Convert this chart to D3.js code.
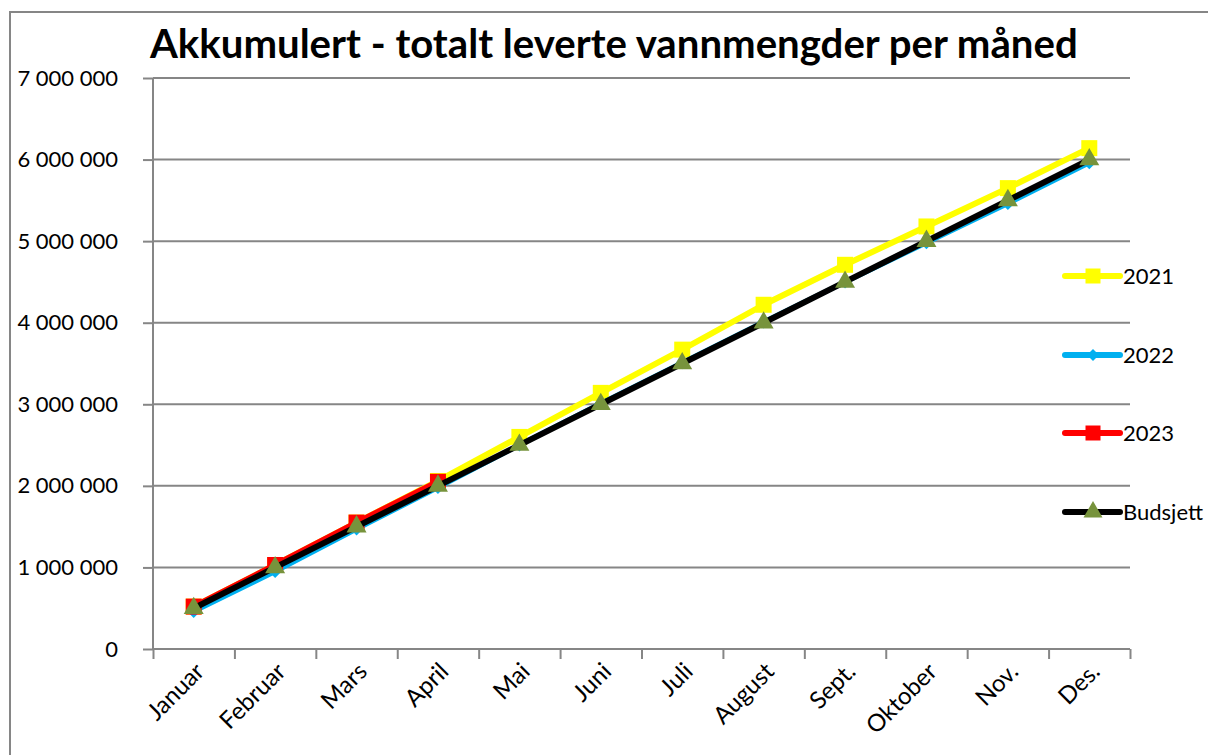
<!DOCTYPE html>
<html>
<head>
<meta charset="utf-8">
<script src="https://cdn.jsdelivr.net/npm/d3@7"></script>
<style>
  body { margin: 0; background: #fff; }
  text { font-family: Lato, "Open Sans", sans-serif; fill: #000; }
</style>
</head>
<body>
<div id="chart"></div>
<script>
"use strict";

// data
var months = ["Januar", "Februar", "Mars", "April", "Mai", "Juni", "Juli", "August", "Sept.", "Oktober", "Nov.", "Des."];
var v2021 = [520000, 1030000, 1550000, 2060000, 2600000, 3140000, 3670000, 4220000, 4710000, 5180000, 5650000, 6140000];
var v2022 = [460000, 950000, 1470000, 1980000, 2500000, 3010000, 3510000, 4010000, 4500000, 4980000, 5460000, 5960000];
var v2023 = [520000, 1030000, 1550000, 2050000];
var budsjett = [500000, 1000000, 1500000, 2000000, 2500000, 3000000, 3500000, 4000000, 4500000, 5000000, 5500000, 6000000];
var yTicks = [0, 1000000, 2000000, 3000000, 4000000, 5000000, 6000000, 7000000];

var series = [
  { name: "2021", values: v2021, color: "#ffff00", width: 6, marker: "square", mcolor: "#ffff00" },
  { name: "2022", values: v2022, color: "#00b0f0", width: 5, marker: "diamond", mcolor: "#00b0f0" },
  { name: "2023", values: v2023, color: "#ff0000", width: 6, marker: "square", mcolor: "#ff0000" },
  { name: "Budsjett", values: budsjett, color: "#000000", width: 6, marker: "triangle", mcolor: "#77933c" }
];

var W = 1208, H = 755;
var pLeft = 153, pRight = 1130, pTop = 78, pBottom = 649;
var grey = "#868686";

var svg = d3.select("#chart").append("svg")
  .attr("width", W).attr("height", H);

// outer chart border (runs off the right and bottom of the picture)
svg.append("rect")
  .attr("x", 10).attr("y", 12)
  .attr("width", 1220).attr("height", 780)
  .attr("fill", "none").attr("stroke", grey).attr("stroke-width", 2);

var x = d3.scaleBand().domain(months).range([pLeft, pRight]);
var xi = d3.scaleLinear().domain([0, months.length]).range([pLeft, pRight]);
var y = d3.scaleLinear().domain([0, 7000000]).range([pBottom, pTop]);

var fmt = d3.formatLocale({ decimal: ",", thousands: " ", grouping: [3], currency: ["", ""] }).format(",d");

// gridlines
svg.append("g").selectAll("line")
  .data(yTicks.slice(1))
  .enter().append("line")
  .attr("x1", pLeft).attr("x2", pRight)
  .attr("y1", function(d) { return y(d); })
  .attr("y2", function(d) { return y(d); })
  .attr("stroke", grey).attr("stroke-width", 2);

// y axis
var yAxis = svg.append("g")
  .attr("transform", "translate(" + pLeft + ",0)")
  .call(d3.axisLeft(y).tickValues(yTicks).tickSize(10).tickPadding(25).tickFormat(fmt));
yAxis.selectAll("line, path").attr("stroke", grey).attr("stroke-width", 2);
yAxis.select(".domain").attr("d", "M0," + pTop + "V" + pBottom);
yAxis.selectAll("text").style("font-size", "22px").style("font-family", "Lato, sans-serif").attr("fill", "#000");

// x axis: boundary ticks
var xAxis = svg.append("g")
  .attr("transform", "translate(0," + pBottom + ")")
  .call(d3.axisBottom(xi).tickValues(d3.range(months.length + 1)).tickSize(10).tickFormat(""));
xAxis.selectAll("line, path").attr("stroke", grey).attr("stroke-width", 2);
xAxis.select(".domain").attr("d", "M" + pLeft + ",0H" + pRight);

// x labels rotated
svg.append("g").selectAll("text")
  .data(months)
  .enter().append("text")
  .attr("text-anchor", "end")
  .attr("transform", function(d) {
    return "translate(" + (x(d) + x.bandwidth() / 2 + 12) + "," + (pBottom + 24) + ") rotate(-45)";
  })
  .style("font-size", "24px")
  .text(function(d) { return d; });

function markerPath(type, s) {
  if (type === "square") return d3.symbol(d3.symbolSquare, s * s)();
  if (type === "diamond") return "M0," + (-s / 2) + "L" + (s / 2) + ",0L0," + (s / 2) + "L" + (-s / 2) + ",0Z";
  return d3.symbol(d3.symbolTriangle, Math.sqrt(3) / 4 * s * s)();
}
var msize = { square: 16, diamond: 13, triangle: 20 };

var line = d3.line()
  .x(function(d, i) { return x(months[i]) + x.bandwidth() / 2; })
  .y(function(d) { return y(d); });

series.forEach(function(s) {
  var g = svg.append("g");
  g.append("path")
    .attr("d", line(s.values))
    .attr("fill", "none")
    .attr("stroke", s.color)
    .attr("stroke-width", s.width)
    .attr("stroke-linejoin", "round");
  g.selectAll("path.m")
    .data(s.values)
    .enter().append("path")
    .attr("class", "m")
    .attr("d", markerPath(s.marker, msize[s.marker]))
    .attr("transform", function(d, i) {
      return "translate(" + (x(months[i]) + x.bandwidth() / 2) + "," + y(d) + ")";
    })
    .attr("fill", s.mcolor);
});

// legend
var legendY = [276, 355, 433, 512];
var legend = svg.append("g").selectAll("g")
  .data(series)
  .enter().append("g")
  .attr("transform", function(d, i) { return "translate(1065," + legendY[i] + ")"; });
legend.append("line")
  .attr("x1", 0).attr("x2", 55)
  .attr("stroke", function(d) { return d.color; })
  .attr("stroke-width", 6)
  .attr("stroke-linecap", "round");
legend.append("path")
  .attr("d", function(d) { return markerPath(d.marker, msize[d.marker] - 1); })
  .attr("transform", "translate(28,0)")
  .attr("fill", function(d) { return d.mcolor; });
legend.append("text")
  .attr("x", 58).attr("dy", "0.35em")
  .style("font-size", "22px")
  .text(function(d) { return d.name; });

// title, sized to span the same width as the original
var title = svg.append("text")
  .attr("x", 150).attr("y", 58)
  .style("font-size", "36px")
  .style("font-weight", "bold")
  .text("Akkumulert - totalt leverte vannmengder per måned");
var tw = title.node().getComputedTextLength();
title.style("font-size", (36 * 928 / tw) + "px");
</script>
</body>
</html>
